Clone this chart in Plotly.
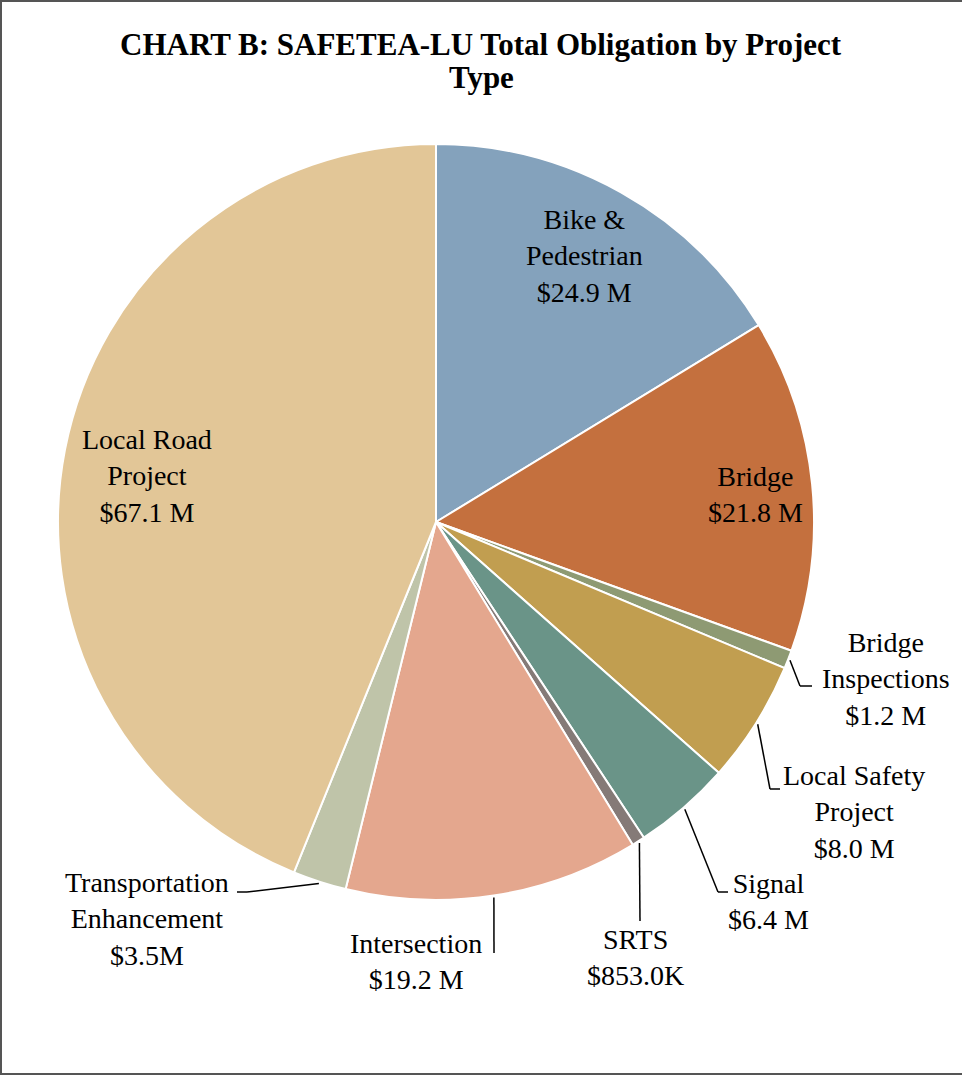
import math
import plotly.graph_objects as go

# data (millions of dollars), clockwise from 12 o'clock
categories = ["Bike & Pedestrian", "Bridge", "Bridge Inspections", "Local Safety Project",
              "Signal", "SRTS", "Intersection", "Transportation Enhancement", "Local Road Project"]
values_m = [24.9, 21.8, 1.2, 8.0, 6.4, 0.853, 19.2, 3.5, 67.1]
value_text = ["$24.9 M", "$21.8 M", "$1.2 M", "$8.0 M", "$6.4 M", "$853.0K", "$19.2 M", "$3.5M", "$67.1 M"]
name_text = ["Bike &<br>Pedestrian", "Bridge", "Bridge<br>Inspections", "Local Safety<br>Project",
             "Signal", "SRTS", "Intersection", "Transportation<br>Enhancement", "Local Road<br>Project"]
colors = ["#84A2BC", "#C4703E", "#8E9A73", "#C19E50", "#6A9488",
          "#857A77", "#E4A78E", "#BFC4A9", "#E2C697"]

# page geometry (pixels)
W, H = 962, 1076
CX, CY, R = 436, 522, 378
FONT = "Liberation Serif"

# label centres (px) and leader elbows (px) -- None means label sits inside its slice
label_pos = [(584, 256), (755, 494), (886, 679), (854, 812), (768, 901),
             (635, 957), (416, 961), (147, 919), (147, 476)]
leader_pts = [None, None, [(800, 686), (812, 686)], [(770, 789), (780, 789)],
              [(718, 892), (728, 892)], [(640, 921)], [(494, 953)],
              [(247, 892), (237, 892)], None]


def px(x, y):
    return x / W, 1 - y / H


fig = go.Figure(go.Pie(
    labels=categories, values=values_m, sort=False, direction="clockwise", rotation=0,
    marker=dict(colors=colors, line=dict(color="white", width=2)),
    textinfo="none", hoverinfo="label+value", showlegend=False,
    domain=dict(x=[(CX - R) / W, (CX + R) / W], y=[1 - (CY + R) / H, 1 - (CY - R) / H]),
))

annotations = []
shapes = []
total = sum(values_m)
cum = 0
for i, v in enumerate(values_m):
    mid = math.radians((cum + v / 2) / total * 360)
    cum += v
    lx, ly = label_pos[i]
    ax, ay = px(lx, ly)
    annotations.append(dict(text=name_text[i] + "<br>" + value_text[i], x=ax, y=ay,
                            xref="paper", yref="paper", showarrow=False,
                            xanchor="center", yanchor="middle",
                            font=dict(family=FONT, size=28, color="black")))
    if leader_pts[i]:
        pts = [(CX + (R + 2) * math.sin(mid), CY - (R + 2) * math.cos(mid))] + leader_pts[i]
        for (x0, y0), (x1, y1) in zip(pts[:-1], pts[1:]):
            a0, b0 = px(x0, y0)
            a1, b1 = px(x1, y1)
            shapes.append(dict(type="line", xref="paper", yref="paper", x0=a0, y0=b0, x1=a1, y1=b1,
                               line=dict(color="black", width=1.5)))

# title, two lines
for txt, ty in [("CHART B: SAFETEA-LU Total Obligation by Project", 44), ("Type", 78)]:
    annotations.append(dict(text="<b>" + txt + "</b>", x=0.5, y=1 - ty / H, xref="paper", yref="paper",
                            showarrow=False, xanchor="center", yanchor="middle",
                            font=dict(family=FONT, size=31, color="black")))

# chart frame (right edge runs off the page)
shapes.append(dict(type="rect", xref="paper", yref="paper", x0=1 / W, y0=2 / H, x1=1.02, y1=1 - 1 / H,
                   line=dict(color="#555555", width=2)))

fig.update_layout(width=W, height=H, margin=dict(l=0, r=0, t=0, b=0),
                  paper_bgcolor="white", plot_bgcolor="white",
                  annotations=annotations, shapes=shapes)

fig.write_html("out.html", config={"displayModeBar": False},
               post_script="document.body.style.margin='0px';")
